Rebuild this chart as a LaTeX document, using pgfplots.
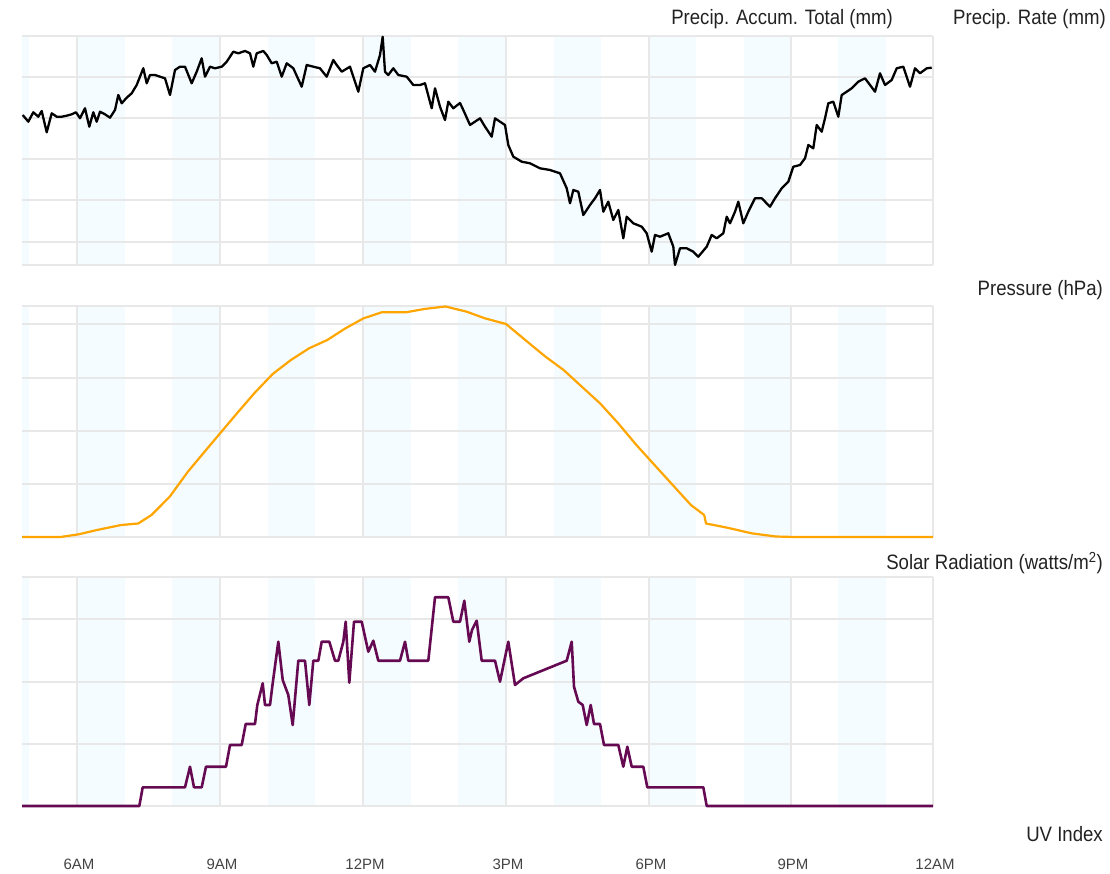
\documentclass[border=0pt]{standalone}
\usepackage{pgfplots}
\pgfplotsset{compat=1.18}
\usepackage{fontspec}
\setmainfont{Liberation Sans}
\definecolor{gridc}{HTML}{E8E8E8}
\definecolor{bandc}{HTML}{F5FCFF}
\definecolor{orangec}{HTML}{FFA500}
\definecolor{purplec}{HTML}{650A52}
\definecolor{titlec}{HTML}{222222}
\definecolor{tickc}{HTML}{444444}
\newcommand\ttlfont{\fontsize{18.6}{22}\selectfont}
\newcommand\ttl[1]{\scalebox{1}[1.12]{#1}}
\newcommand\bands[2]{%
\addplot[on layer=axis background, fill=bandc, draw=none] coordinates {(22,#1)(29.3,#1)(29.3,#2)(22,#2)} -- cycle;
\addplot[on layer=axis background, fill=bandc, draw=none] coordinates {(77,#1)(124.7,#1)(124.7,#2)(77,#2)} -- cycle;
\addplot[on layer=axis background, fill=bandc, draw=none] coordinates {(172.3,#1)(220,#1)(220,#2)(172.3,#2)} -- cycle;
\addplot[on layer=axis background, fill=bandc, draw=none] coordinates {(267.7,#1)(315.3,#1)(315.3,#2)(267.7,#2)} -- cycle;
\addplot[on layer=axis background, fill=bandc, draw=none] coordinates {(363,#1)(410.7,#1)(410.7,#2)(363,#2)} -- cycle;
\addplot[on layer=axis background, fill=bandc, draw=none] coordinates {(458.3,#1)(506,#1)(506,#2)(458.3,#2)} -- cycle;
\addplot[on layer=axis background, fill=bandc, draw=none] coordinates {(553.7,#1)(601.3,#1)(601.3,#2)(553.7,#2)} -- cycle;
\addplot[on layer=axis background, fill=bandc, draw=none] coordinates {(649,#1)(696.3,#1)(696.3,#2)(649,#2)} -- cycle;
\addplot[on layer=axis background, fill=bandc, draw=none] coordinates {(743.7,#1)(791,#1)(791,#2)(743.7,#2)} -- cycle;
\addplot[on layer=axis background, fill=bandc, draw=none] coordinates {(838.3,#1)(885.7,#1)(885.7,#2)(838.3,#2)} -- cycle;
}
\pgfplotsset{panel/.style={set layers, scale only axis, width=911pt, xmin=22, xmax=933,
  y dir=reverse, axis line style={draw=none}, tick style={draw=none},
  xtick={77,220,363,506,649,791,933}, xticklabels={}, yticklabels={},
  xticklabel style={inner sep=0pt}, yticklabel style={inner sep=0pt},
  grid=major, major grid style={draw=gridc, line width=2.3pt}, clip=false, anchor=south west}}
\begin{document}
\begin{tikzpicture}
\path (0,0) rectangle (1110pt,873pt);
% Panel 1
\begin{axis}[panel, at={(22pt,608pt)}, height=229pt, ymin=36, ymax=265,
  ytick={36,77,118,159,200,242,265}]
\bands{36}{265}
\addplot[black, line width=2.3pt, line join=round] coordinates {
(22.7,115)(28.3,121.7)(33.3,112.3)(38.3,116.7)(41.7,111)(46.7,132.3)(51.7,113.3)(56.7,116.7)(61.7,116.7)(66.7,115.7)(71.7,114.3)(76,112.3)(80,118.3)(85,108.3)(89.3,126.7)(93.3,112.3)(96.7,121.7)(100,111.7)(105,114.3)(110,117.7)(115,110)(118.3,95)(121.7,103.3)(126.7,97.7)(131.7,93.3)(136.7,85)(143.3,68.3)(146.7,83.3)(150,75)(155,75)(160,76.7)(165,78.3)(170,95)(175,70)(180,66.7)(185,66.7)(191.7,83.3)(196.7,71.7)(201.7,58.3)(205,76.7)(210,66.7)(215,68.3)(221.7,66.7)(226.7,61.7)(233.3,51.7)(238.3,53.3)(245,51)(250,53.3)(253.3,66.7)(256.7,53.3)(263.3,51)(266.7,55)(271.7,63.3)(276.7,61.7)(281.7,76.7)(286.7,63.3)(293.3,68.3)(301.7,86.7)(306.7,65)(313.3,66.7)(320,68.3)(326.7,76.7)(333.3,60)(336.7,65)(341.7,71.7)(350,66.7)(358.3,91.7)(363.3,68.3)(370,65)(375,71.7)(380,55)(382.7,36.7)(385,71.7)(388.3,75)(393.3,68.3)(398.3,75)(406.7,76.7)(413.3,85)(420,85)(425,83.3)(431.7,108.3)(435,88.3)(440,106.7)(445,120)(448.3,101.7)(453.3,108.3)(460,103)(463.3,110)(470,125)(475,121.7)(480,118.3)(485,126.7)(491.7,136.7)(495,118.3)(500,121.7)(505,125)(508.3,145)(513.3,156.7)(521.7,161.7)(530,163.3)(540,168.3)(550,170)(560,173.3)(566.7,188.3)(570,203.3)(573.3,190)(578.3,191.7)(583.3,215)(590,205)(595,198.3)(600,190)(603.3,211.7)(608.3,201.7)(613.3,220)(618.3,210)(623.3,238.3)(626.7,216.7)(633.3,223.3)(641.7,226.7)(646.7,233.3)(651.7,251.7)(655,235)(660,236.7)(668.3,233.3)(673.3,246.7)(675,265)(680,248.3)(686.7,248.3)(693.3,251.7)(698.3,256.7)(706.7,246.7)(711.7,235)(716.7,238.3)(723.3,233.3)(726.7,216.7)(730,223.3)(735,211.7)(738.3,201.7)(743.3,223.3)(748.3,211.7)(755,198.3)(761.7,198.3)(770,206.7)(775,198.3)(781.7,188.3)(788.3,181.7)(793.3,166.7)(800,165)(805,158.3)(808.3,145)(813.3,148.3)(816.7,125)(821.7,131.7)(825,118.3)(828.3,103.3)(833.3,101.7)(838.3,116.7)(841.7,95)(846.7,91.7)(851.7,88.3)(858.3,81.7)(865,78.3)(870,85)(875,91.7)(880,73.3)(885,85)(891.7,80)(896.7,68.3)(903.3,66.7)(910,86.7)(915,68.3)(920,73.3)(926.7,68.3)(931.7,67.7)};
\end{axis}
% Panel 2
\begin{axis}[panel, at={(22pt,336pt)}, height=231pt, ymin=306, ymax=537,
  ytick={306,324,378,431,484,537}]
\bands{306}{537}
\addplot[orangec, line width=2.2pt, line join=round] coordinates {
(22,537)(60.6,537)(78.8,534.3)(97,530)(121.2,525)(138.2,523.5)(151.5,515)(169.7,496.7)(187.9,471.7)(206,450)(221.2,432)(236.4,414)(254.5,393)(272.7,374)(290.9,360)(309.1,348.3)(327.3,340)(345.5,328.3)(363.6,318.3)(381.8,312.3)(406.1,312.3)(424.2,309)(445.5,306.5)(466.7,311.7)(484.8,318.3)(506,324)(527.3,341.7)(545.5,356.7)(563.6,370)(581.8,386.7)(600,403.3)(618.2,423.3)(636.4,445)(654.5,465)(672.7,485)(690.9,505)(704.2,515)(706,523.5)(727.3,527.7)(751.5,533.3)(775.8,536.5)(793.9,537)(933,537)};
\end{axis}
% Panel 3
\begin{axis}[panel, at={(22pt,67pt)}, height=229pt, ymin=577, ymax=806,
  ytick={577,619,682,744,806},
  xticklabels={6AM,9AM,12PM,3PM,6PM,9PM,12AM},
  xticklabel style={font=\fontsize{15}{18}\selectfont, text=tickc, anchor=base, yshift=-63pt, xshift=2pt}]
\bands{577}{806}
\addplot[purplec, line width=2.6pt, line join=round] coordinates {
(22,806)(139.3,806)(142.7,787.3)(185,787.3)(190,766.7)(194,787.3)(201.7,787.3)(206,766.7)(226,766.7)(230,745)(241.7,745)(245.7,724)(255,724)(257.3,705)(262.7,683.3)(265,705)(270,705)(272.7,683.3)(278.3,641.7)(282.7,680)(288.3,695)(292.7,725)(298.3,660.7)(305,660.7)(309.3,705)(313.3,660.7)(318.3,660.7)(321.7,641.7)(329.3,641.7)(335,660.7)(338.3,660.7)(343.3,641.7)(345.7,621.7)(349.3,682.7)(354,621.7)(361.7,621.7)(368.3,651.7)(373.3,640.7)(378.3,660.7)(381.7,660.7)(400,660.7)(405,641.7)(408.3,660.7)(428.3,660.7)(435,597.3)(448.3,597.3)(453.3,621.7)(460,621.7)(464.3,600.7)(469.3,641.7)(472,630)(476.7,620.7)(481.7,660.7)(495,660.7)(500,681.7)(508.3,641.7)(515,685)(523.3,678.3)(566.7,660.7)(571.7,641.7)(574,686.7)(578.3,701.7)(582.7,705)(586.7,725)(590.7,705)(594,724)(600,724)(604,745)(618.3,745)(623.3,766.7)(627.3,746.7)(631.7,766.7)(643.3,766.7)(647.3,787.3)(703.3,787.3)(706.7,806)(933,806)};
\end{axis}
% Titles
\node[anchor=base east, font=\ttlfont, text=titlec, inner sep=0pt] at (893pt,848pt) {\ttl{Precip. Accum. Total (mm)}};
\node[anchor=base east, font=\ttlfont, text=titlec, inner sep=0pt] at (1106pt,848pt) {\ttl{Precip. Rate (mm)}};
\node[anchor=base east, font=\ttlfont, text=titlec, inner sep=0pt] at (1103pt,577pt) {\ttl{Pressure (hPa)}};
\node[anchor=base east, font=\ttlfont, text=titlec, inner sep=0pt] at (1103pt,303pt) {\ttl{Solar Radiation (watts/m\textsuperscript{2})}};
\node[anchor=base east, font=\ttlfont, text=titlec, inner sep=0pt] at (1103pt,32pt) {\ttl{UV Index}};
\end{tikzpicture}
\end{document}
